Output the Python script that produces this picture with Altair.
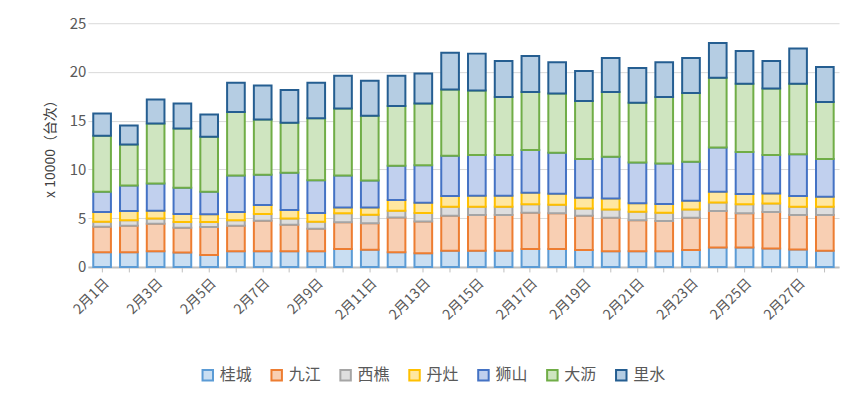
import altair as alt
import pandas as pd

days = [f"2月{d}日" for d in range(1, 29)]
series = ["桂城", "九江", "西樵", "丹灶", "狮山", "大沥", "里水"]

guicheng = [1.5, 1.5, 1.6, 1.47, 1.23, 1.6, 1.6, 1.6, 1.6, 1.84, 1.77, 1.5, 1.4, 1.67,
            1.67, 1.67, 1.84, 1.84, 1.74, 1.6, 1.6, 1.6, 1.74, 1.98, 2.0, 1.9, 1.8, 1.67]
jiujiang = [2.63, 2.73, 2.84, 2.56, 2.87, 2.63, 3.14, 2.73, 2.32, 2.73, 2.7, 3.58, 3.27, 3.59,
            3.65, 3.65, 3.72, 3.66, 3.52, 3.45, 3.2, 3.1, 3.31, 3.75, 3.5, 3.73, 3.52, 3.65]
xiqiao = [0.51, 0.57, 0.54, 0.57, 0.5, 0.57, 0.69, 0.65, 0.72, 0.93, 0.89, 0.69, 0.86, 0.92,
          0.86, 0.86, 0.86, 0.88, 0.74, 0.85, 0.87, 0.86, 0.85, 0.87, 0.92, 0.87, 0.86, 0.86]
danzao = [0.99, 0.93, 0.79, 0.83, 0.8, 0.83, 0.92, 0.86, 0.89, 0.6, 0.74, 1.09, 1.06, 1.09,
          1.12, 1.12, 1.18, 1.12, 1.1, 1.13, 0.85, 0.89, 0.9, 1.1, 1.05, 1.04, 1.09, 1.02]
shishan = [2.08, 2.63, 2.8, 2.69, 2.31, 3.76, 3.1, 3.82, 3.37, 3.29, 2.77, 3.51, 3.85, 4.13,
           4.17, 4.17, 4.4, 4.2, 3.96, 4.27, 4.18, 4.15, 3.98, 4.55, 4.33, 3.93, 4.3, 3.86]
dali = [5.74, 4.2, 6.13, 6.08, 5.64, 6.51, 5.67, 5.14, 6.35, 6.86, 6.63, 6.13, 6.32, 6.8,
        6.63, 5.97, 5.95, 6.08, 5.97, 6.65, 6.13, 6.84, 7.07, 7.15, 7.0, 6.83, 7.23, 5.87]
lishui = [2.28, 1.94, 2.47, 2.56, 2.28, 3.0, 3.48, 3.36, 3.65, 3.37, 3.6, 3.12, 3.07, 3.78,
          3.78, 3.69, 3.69, 3.22, 3.07, 3.48, 3.57, 3.56, 3.58, 3.57, 3.35, 2.83, 3.6, 3.57]

stroke_colors = ["#5B9BD5", "#ED7D31", "#A5A5A5", "#FFC000", "#4472C4", "#70AD47", "#255E91"]
fill_colors = ["#c9def2", "#f8cfb3", "#dedede", "#ffe7a0", "#c1d0ee", "#cfe5c0", "#b5cde3"]

rows = []
for s, vals in zip(series, [guicheng, jiujiang, xiqiao, danzao, shishan, dali, lishui]):
    for d, v in zip(days, vals):
        rows.append({"日期": d, "地区": s, "值": v, "序": series.index(s)})
df = pd.DataFrame(rows)

font = "Noto Sans CJK SC"

chart = alt.Chart(df).mark_bar(strokeWidth=2).encode(
    x=alt.X("日期:N", sort=days, title=None,
            scale=alt.Scale(paddingInner=0.34, paddingOuter=0.2),
            axis=alt.Axis(labelAngle=-45, labelAlign="right", labelBaseline="top",
                          labelExpr="indexof(datum.label, '日') > 0 && (parseInt(slice(datum.label, 2, -1)) % 2 == 1) ? datum.label : ''",
                          ticks=True, tickColor="#bfbfbf", domainColor="#bfbfbf", domainWidth=2,
                          labelColor="#595959", labelFontSize=14, labelFont=font, labelPadding=4)),
    y=alt.Y("值:Q", stack="zero", title="x 10000（台次）",
            scale=alt.Scale(domain=[0, 25]),
            axis=alt.Axis(values=[0, 5, 10, 15, 20, 25], domain=False, ticks=False,
                          gridColor="#d9d9d9", labelColor="#595959", labelFontSize=15,
                          labelFont=font, titleFont=font, titleFontSize=14,
                          titleFontWeight="normal", titleColor="#404040", titlePadding=12)),
    color=alt.Color("地区:N", sort=series, title=None,
                    scale=alt.Scale(domain=series, range=fill_colors),
                    legend=alt.Legend(orient="none", direction="horizontal", legendX=112, legendY=344,
                                      symbolType="square", symbolSize=110, symbolStrokeWidth=2,
                                      labelFont=font, labelFontSize=16, labelColor="#595959",
                                      columnPadding=14)),
    stroke=alt.Stroke("地区:N", sort=series, scale=alt.Scale(domain=series, range=stroke_colors), legend=None),
    order=alt.Order("序:Q", sort="ascending"),
).properties(
    width=752, height=244,
    autosize=alt.AutoSizeParams(type="none"),
    padding={"left": 80, "top": 15, "right": 20, "bottom": 130},
).configure_view(stroke=None)

chart.save("out.html", embed_options={"renderer": "svg", "actions": False})
